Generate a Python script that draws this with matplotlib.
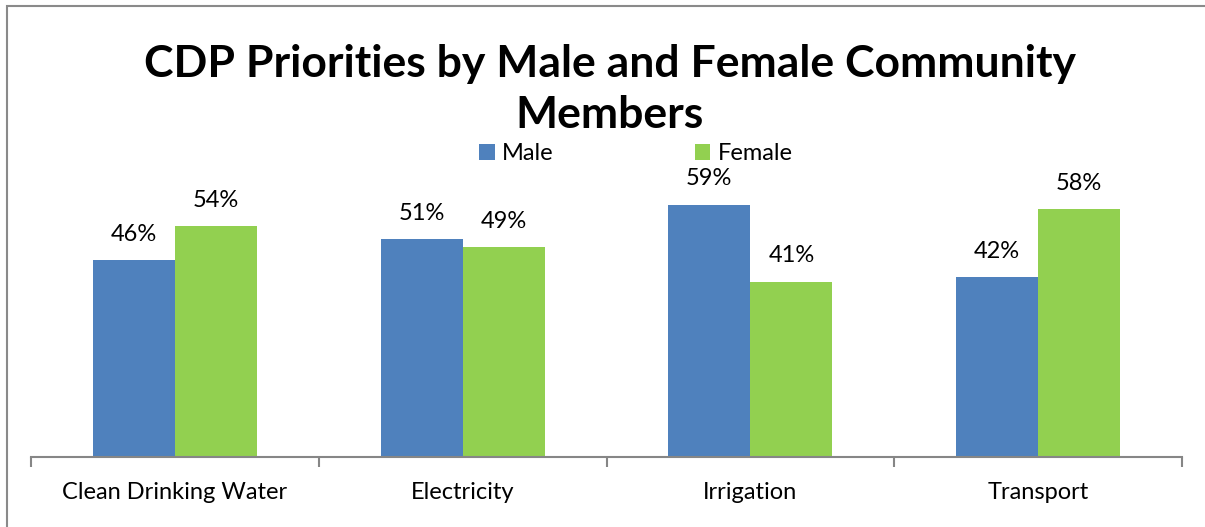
import matplotlib
matplotlib.use("Agg")
import matplotlib.pyplot as plt
from matplotlib.patches import Rectangle
import numpy as np

plt.rcParams["font.family"] = ["Lato", "DejaVu Sans"]

# survey shares by priority
categories = ["Clean Drinking Water", "Electricity", "Irrigation", "Transport"]
male = [46, 51, 59, 42]
female = [54, 49, 41, 58]

blue = "#4F81BD"
green = "#92D050"
axis_grey = "#868686"

fig = plt.figure(figsize=(12.05, 5.27), dpi=100)
ax = fig.add_axes([31 / 1205, 70 / 527, 1151 / 1205, 308 / 527])

x = np.arange(len(categories))
w = 0.285
b1 = ax.bar(x - w / 2, male, w, color=blue, label="Male")
b2 = ax.bar(x + w / 2, female, w, color=green, label="Female")

for bars, vals in ((b1, male), (b2, female)):
    for rect, v in zip(bars, vals):
        ax.annotate("{}%".format(v), (rect.get_x() + rect.get_width() / 2, v),
                    xytext=(0, 11), textcoords="offset points",
                    ha="center", va="bottom", fontsize=17)

ax.set_xlim(-0.5, len(categories) - 0.5)
ax.set_ylim(0, 72)

for s in ("top", "right", "left"):
    ax.spines[s].set_visible(False)
ax.spines["bottom"].set_color(axis_grey)
ax.spines["bottom"].set_linewidth(1.5)

ax.set_yticks([])
ax.set_xticks(x)
ax.set_xticklabels(categories, fontsize=17)
ax.tick_params(axis="x", which="major", length=0, pad=18)
ax.set_xticks(np.arange(len(categories) + 1) - 0.5, minor=True)
ax.tick_params(axis="x", which="minor", length=7, width=1.5, color=axis_grey)

# baseline of the second title line
fig.text(0.506, 1 - 128 / 527, "CDP Priorities by Male and Female Community\nMembers",
         ha="center", va="baseline", fontsize=32, fontweight="bold",
         linespacing=1.32)

fig.legend(loc="center", bbox_to_anchor=(636 / 1205, 1 - 154 / 527), ncol=2,
           frameon=False, fontsize=17, handlelength=0.65, handleheight=0.65,
           handletextpad=0.3, columnspacing=6.0)

# outer frame, open on the right and bottom
fig.patches.append(Rectangle((7 / 1205, -0.1), 1.2, 1.1 - 6 / 527,
                             transform=fig.transFigure, fill=False,
                             edgecolor="#8a8a8a", linewidth=1.5))

fig.savefig("out.png", dpi=100)
